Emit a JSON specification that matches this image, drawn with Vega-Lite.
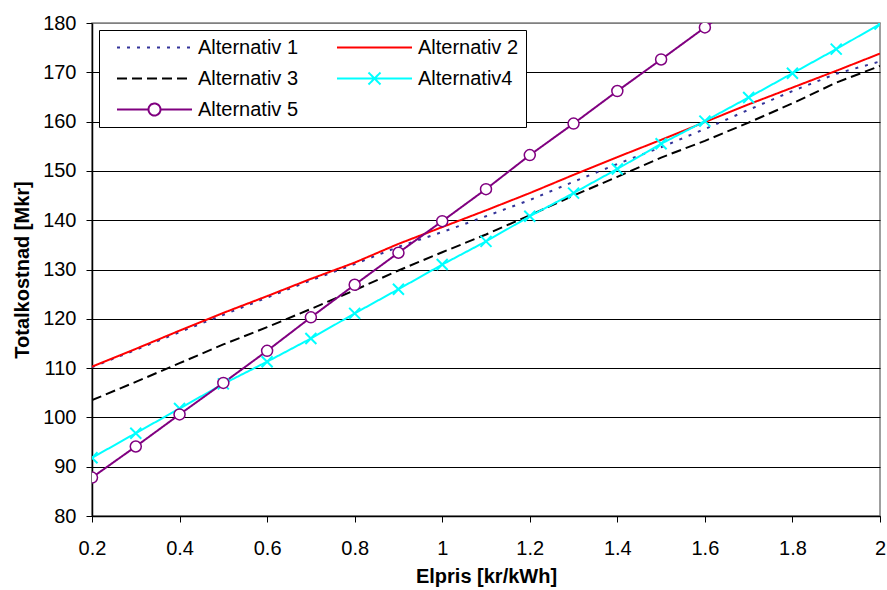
{
  "$schema": "https://vega.github.io/schema/vega-lite/v6.json",
  "width": 788,
  "height": 493,
  "autosize": {"type": "none"},
  "padding": {"left": 92, "top": 23, "right": 7, "bottom": 74},
  "background": "white",
  "config": {
    "font": "Liberation Sans",
    "view": {"stroke": "#808080", "strokeWidth": 1.5},
    "axis": {
      "domainColor": "black",
      "tickColor": "black",
      "labelColor": "black",
      "titleColor": "black",
      "labelFont": "Liberation Sans",
      "titleFont": "Liberation Sans",
      "labelFontSize": 20,
      "titleFontSize": 20,
      "titleFontWeight": "bold",
      "domainWidth": 1.5,
      "tickWidth": 1,
      "tickSize": 6
    },
    "legend": {
      "orient": "top-left",
      "direction": "horizontal",
      "offset": 7,
      "padding": 7,
      "columns": 2,
      "symbolSize": 5625,
      "clipHeight": 21,
      "rowPadding": 10,
      "columnPadding": 27,
      "symbolOffset": 10,
      "labelOffset": 5,
      "labelFontSize": 20,
      "labelFont": "Liberation Sans",
      "labelColor": "black",
      "strokeColor": "black",
      "fillColor": "white",
      "symbolStrokeWidth": 2,
      "labelLimit": 0
    }
  },
  "data": {
    "values": [
      {"x": 0.2, "y": 110.2, "series": "Alternativ 1"},
      {"x": 0.3, "y": 113.7, "series": "Alternativ 1"},
      {"x": 0.4, "y": 117.3, "series": "Alternativ 1"},
      {"x": 0.5, "y": 120.8, "series": "Alternativ 1"},
      {"x": 0.6, "y": 124.3, "series": "Alternativ 1"},
      {"x": 0.7, "y": 127.8, "series": "Alternativ 1"},
      {"x": 0.8, "y": 131.1, "series": "Alternativ 1"},
      {"x": 0.9, "y": 134.6, "series": "Alternativ 1"},
      {"x": 1.0, "y": 137.6, "series": "Alternativ 1"},
      {"x": 1.1, "y": 140.8, "series": "Alternativ 1"},
      {"x": 1.2, "y": 144.1, "series": "Alternativ 1"},
      {"x": 1.3, "y": 147.8, "series": "Alternativ 1"},
      {"x": 1.4, "y": 151.4, "series": "Alternativ 1"},
      {"x": 1.5, "y": 154.8, "series": "Alternativ 1"},
      {"x": 1.6, "y": 158.5, "series": "Alternativ 1"},
      {"x": 1.7, "y": 162.4, "series": "Alternativ 1"},
      {"x": 1.8, "y": 166.2, "series": "Alternativ 1"},
      {"x": 1.9, "y": 169.7, "series": "Alternativ 1"},
      {"x": 2.0, "y": 172.2, "series": "Alternativ 1"},

      {"x": 0.2, "y": 110.3, "series": "Alternativ 2"},
      {"x": 0.3, "y": 113.9, "series": "Alternativ 2"},
      {"x": 0.4, "y": 117.6, "series": "Alternativ 2"},
      {"x": 0.5, "y": 121.2, "series": "Alternativ 2"},
      {"x": 0.6, "y": 124.6, "series": "Alternativ 2"},
      {"x": 0.7, "y": 128.1, "series": "Alternativ 2"},
      {"x": 0.8, "y": 131.4, "series": "Alternativ 2"},
      {"x": 0.9, "y": 135.2, "series": "Alternativ 2"},
      {"x": 1.0, "y": 138.6, "series": "Alternativ 2"},
      {"x": 1.1, "y": 142.0, "series": "Alternativ 2"},
      {"x": 1.2, "y": 145.5, "series": "Alternativ 2"},
      {"x": 1.3, "y": 149.2, "series": "Alternativ 2"},
      {"x": 1.4, "y": 152.8, "series": "Alternativ 2"},
      {"x": 1.5, "y": 156.3, "series": "Alternativ 2"},
      {"x": 1.6, "y": 159.9, "series": "Alternativ 2"},
      {"x": 1.7, "y": 163.5, "series": "Alternativ 2"},
      {"x": 1.8, "y": 166.9, "series": "Alternativ 2"},
      {"x": 1.9, "y": 170.3, "series": "Alternativ 2"},
      {"x": 2.0, "y": 173.8, "series": "Alternativ 2"},

      {"x": 0.2, "y": 103.5, "series": "Alternativ 3"},
      {"x": 0.3, "y": 107.2, "series": "Alternativ 3"},
      {"x": 0.4, "y": 111.0, "series": "Alternativ 3"},
      {"x": 0.5, "y": 114.8, "series": "Alternativ 3"},
      {"x": 0.6, "y": 118.3, "series": "Alternativ 3"},
      {"x": 0.7, "y": 122.0, "series": "Alternativ 3"},
      {"x": 0.8, "y": 125.8, "series": "Alternativ 3"},
      {"x": 0.9, "y": 129.8, "series": "Alternativ 3"},
      {"x": 1.0, "y": 133.5, "series": "Alternativ 3"},
      {"x": 1.1, "y": 137.1, "series": "Alternativ 3"},
      {"x": 1.2, "y": 141.0, "series": "Alternativ 3"},
      {"x": 1.3, "y": 145.0, "series": "Alternativ 3"},
      {"x": 1.4, "y": 148.8, "series": "Alternativ 3"},
      {"x": 1.5, "y": 152.7, "series": "Alternativ 3"},
      {"x": 1.6, "y": 156.1, "series": "Alternativ 3"},
      {"x": 1.7, "y": 159.8, "series": "Alternativ 3"},
      {"x": 1.8, "y": 163.7, "series": "Alternativ 3"},
      {"x": 1.9, "y": 167.9, "series": "Alternativ 3"},
      {"x": 2.0, "y": 171.3, "series": "Alternativ 3"},

      {"x": 0.2, "y": 91.8, "series": "Alternativ4"},
      {"x": 0.3, "y": 96.8, "series": "Alternativ4"},
      {"x": 0.4, "y": 101.8, "series": "Alternativ4"},
      {"x": 0.5, "y": 106.8, "series": "Alternativ4"},
      {"x": 0.6, "y": 111.3, "series": "Alternativ4"},
      {"x": 0.7, "y": 116.0, "series": "Alternativ4"},
      {"x": 0.8, "y": 121.1, "series": "Alternativ4"},
      {"x": 0.9, "y": 126.0, "series": "Alternativ4"},
      {"x": 1.0, "y": 131.0, "series": "Alternativ4"},
      {"x": 1.1, "y": 135.7, "series": "Alternativ4"},
      {"x": 1.2, "y": 140.8, "series": "Alternativ4"},
      {"x": 1.3, "y": 145.5, "series": "Alternativ4"},
      {"x": 1.4, "y": 150.4, "series": "Alternativ4"},
      {"x": 1.5, "y": 155.5, "series": "Alternativ4"},
      {"x": 1.6, "y": 160.1, "series": "Alternativ4"},
      {"x": 1.7, "y": 164.9, "series": "Alternativ4"},
      {"x": 1.8, "y": 169.8, "series": "Alternativ4"},
      {"x": 1.9, "y": 174.7, "series": "Alternativ4"},
      {"x": 2.0, "y": 179.8, "series": "Alternativ4"},

      {"x": 0.2, "y": 87.8, "series": "Alternativ 5"},
      {"x": 0.3, "y": 94.1, "series": "Alternativ 5"},
      {"x": 0.4, "y": 100.6, "series": "Alternativ 5"},
      {"x": 0.5, "y": 107.0, "series": "Alternativ 5"},
      {"x": 0.6, "y": 113.5, "series": "Alternativ 5"},
      {"x": 0.7, "y": 120.3, "series": "Alternativ 5"},
      {"x": 0.8, "y": 126.9, "series": "Alternativ 5"},
      {"x": 0.9, "y": 133.4, "series": "Alternativ 5"},
      {"x": 1.0, "y": 139.8, "series": "Alternativ 5"},
      {"x": 1.1, "y": 146.3, "series": "Alternativ 5"},
      {"x": 1.2, "y": 153.2, "series": "Alternativ 5"},
      {"x": 1.3, "y": 159.6, "series": "Alternativ 5"},
      {"x": 1.4, "y": 166.2, "series": "Alternativ 5"},
      {"x": 1.5, "y": 172.6, "series": "Alternativ 5"},
      {"x": 1.6, "y": 179.1, "series": "Alternativ 5"},
      {"x": 1.7, "y": 185.5, "series": "Alternativ 5"}
    ]
  },
  "encoding": {
    "x": {
      "field": "x",
      "type": "quantitative",
      "scale": {"domain": [0.2, 2], "nice": false, "zero": false},
      "axis": {
        "title": "Elpris [kr/kWh]",
        "values": [0.2, 0.4, 0.6, 0.8, 1.0, 1.2, 1.4, 1.6, 1.8, 2.0],
        "format": ".1~f",
        "grid": false,
        "labelFlush": false,
        "labelOverlap": false,
        "labelPadding": 16,
        "titlePadding": 8
      }
    },
    "y": {
      "field": "y",
      "type": "quantitative",
      "scale": {"domain": [80, 180], "nice": false, "zero": false},
      "axis": {
        "title": "Totalkostnad [Mkr]",
        "values": [80, 90, 100, 110, 120, 130, 140, 150, 160, 170, 180],
        "grid": true,
        "gridColor": {"condition": {"test": "datum.value === 180", "value": "#808080"}, "value": "#000000"},
        "gridWidth": 1,
        "labelPadding": 10,
        "titlePadding": 10,
        "labelFlush": false
      }
    }
  },
  "layer": [
    {
      "mark": {"type": "line", "clip": true, "strokeWidth": 2},
      "encoding": {
        "color": {
          "field": "series",
          "type": "nominal",
          "scale": {
            "domain": ["Alternativ 1", "Alternativ 2", "Alternativ 3", "Alternativ4", "Alternativ 5"],
            "range": ["#333399", "#FF0000", "#000000", "#00FFFF", "#800080"]
          },
          "legend": {
            "title": null,
            "encode": {
              "symbols": {
                "update": {
                  "shape": {"signal": "datum.value === 'Alternativ4' ? 'M-1,0H1M-0.16,-0.16L0.16,0.16M-0.16,0.16L0.16,-0.16' : (datum.value === 'Alternativ 5' ? 'M-1,0H-0.16M0.16,0H1M-0.16,0A0.16,0.16,0,1,1,0.16,0A0.16,0.16,0,1,1,-0.16,0' : 'M-1,0H1')"},
                  "fill": {"value": "white"},
                  "strokeWidth": {"value": 2}
                }
              }
            }
          }
        },
        "strokeDash": {
          "field": "series",
          "type": "nominal",
          "scale": {
            "domain": ["Alternativ 1", "Alternativ 2", "Alternativ 3", "Alternativ4", "Alternativ 5"],
            "range": [[3, 7], [1, 0], [10, 5], [1, 0], [1, 0]]
          },
          "legend": {"title": null}
        }
      }
    },
    {
      "transform": [{"filter": "datum.series === 'Alternativ4'"}],
      "mark": {"type": "point", "shape": "M-1,-1L1,1M-1,1L1,-1", "size": 121, "stroke": "#00FFFF", "strokeWidth": 2, "filled": false, "opacity": 1, "clip": true},
      "encoding": {}
    },
    {
      "transform": [{"filter": "datum.series === 'Alternativ 5'"}],
      "mark": {"type": "point", "shape": "circle", "size": 121, "stroke": "#800080", "fill": "white", "filled": true, "strokeWidth": 1.5, "opacity": 1, "clip": true},
      "encoding": {}
    }
  ]
}
